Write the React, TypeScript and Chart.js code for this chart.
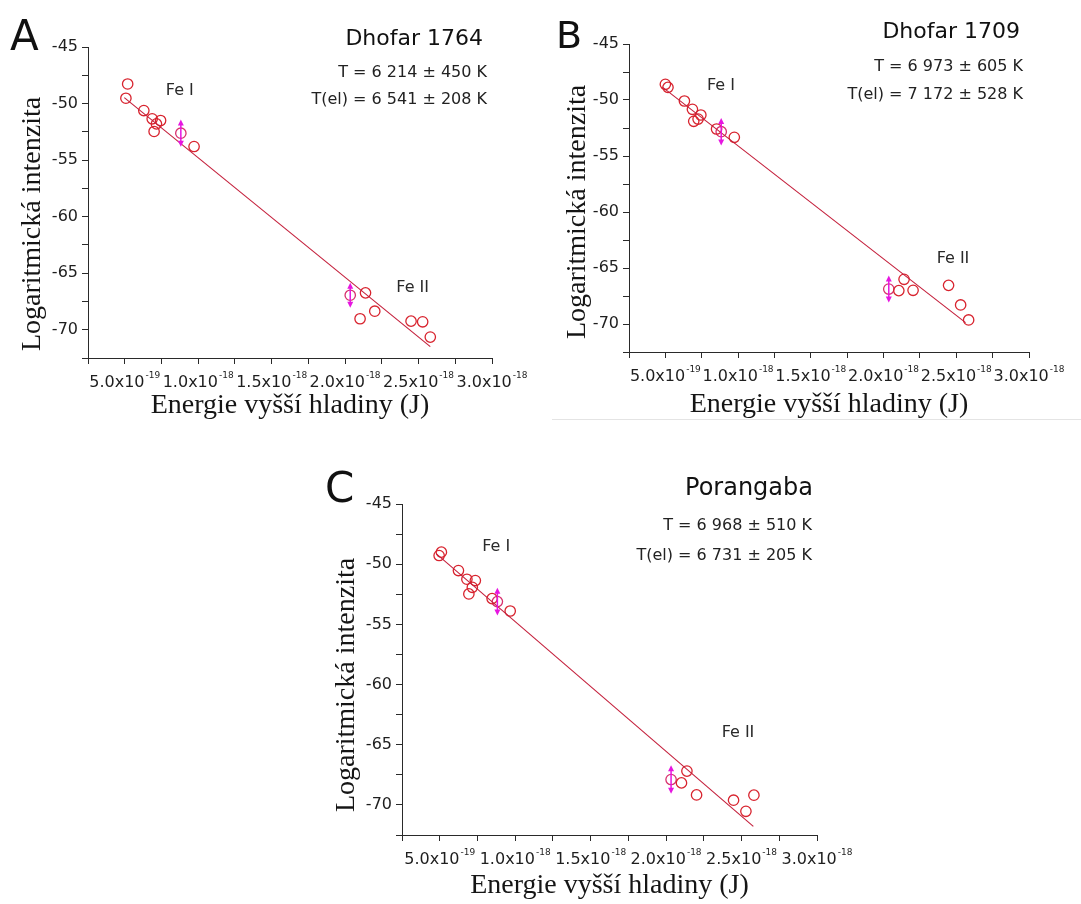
import React, { useEffect, useRef } from "react";
import { Chart, registerables } from "chart.js";

Chart.register(...registerables);

// Energies are in units of 1e-18 J, log intensities dimensionless.
const xTickValues = [0.25, 0.5, 0.75, 1.0, 1.25, 1.5, 1.75, 2.0, 2.25, 2.5, 2.75, 3.0];
const xTickMantissas = ["", "5.0", "", "1.0", "", "1.5", "", "2.0", "", "2.5", "", "3.0"];
const xTickExponents = ["", "-19", "", "-18", "", "-18", "", "-18", "", "-18", "", "-18"];
const yTickValues = [-72.5, -70, -67.5, -65, -62.5, -60, -57.5, -55, -52.5, -50, -47.5, -45];
const yTickLabels = ["", "-70", "", "-65", "", "-60", "", "-55", "", "-50", "", "-45"];

const xAxisTitle = "Energie vyšší hladiny (J)";
const yAxisTitle = "Logaritmická intenzita";

// Panel A – Dhofar 1764
const aEnergy = [0.52, 0.508, 0.63, 0.687, 0.70, 0.744, 0.716, 0.972, 2.139, 2.102, 2.202, 2.449, 2.528, 2.58];
const aLogInt = [-48.27, -49.53, -50.62, -51.35, -52.47, -51.5, -51.8, -53.8, -66.74, -69.03, -68.36, -69.24, -69.3, -70.65];
const aErrEnergy = [0.882, 2.035];
const aErrLogInt = [-52.62, -66.95];
const aErrSize = [1.2, 1.1];
const aFitEnergy = [0.497, 2.58];
const aFitLogInt = [-49.47, -71.5];

// Panel B – Dhofar 1709
const bEnergy = [0.5, 0.518, 0.631, 0.686, 0.744, 0.695, 0.725, 0.852, 0.974, 2.105, 2.141, 2.203, 2.447, 2.53, 2.585];
const bLogInt = [-48.6, -48.87, -50.09, -50.83, -51.34, -51.9, -51.7, -52.59, -53.33, -67.02, -66.01, -66.99, -66.55, -68.3, -69.64];
const bErrEnergy = [0.884, 2.036];
const bErrLogInt = [-52.83, -66.88];
const bErrSize = [1.23, 1.2];
const bFitEnergy = [0.482, 2.564];
const bFitLogInt = [-48.87, -69.88];

// Panel C – Porangaba
const cEnergy = [0.511, 0.496, 0.624, 0.68, 0.736, 0.716, 0.693, 0.847, 0.967, 2.102, 2.138, 2.202, 2.447, 2.529, 2.582];
const cLogInt = [-49.0, -49.28, -50.53, -51.25, -51.36, -51.92, -52.47, -52.86, -53.89, -68.17, -67.19, -69.17, -69.61, -70.53, -69.19];
const cErrEnergy = [0.882, 2.033];
const cErrLogInt = [-53.11, -67.89];
const cErrSize = [1.15, 1.18];
const cFitEnergy = [0.478, 2.578];
const cFitLogInt = [-49.14, -71.78];

const SANS = '"DejaVu Sans", "Liberation Sans", Arial, sans-serif';
const SERIF = '"Liberation Serif", "Times New Roman", serif';
const POINT_COLOR = "#d8232e";
const FIT_COLOR = "#c4203c";
const ERR_COLOR = "#e616e0";
const AXIS_COLOR = "#2a2a2a";

type PanelDef = {
  id: string;
  left: number; top: number; width: number; height: number;
  area: { left: number; top: number; right: number; bottom: number };
  energy: number[]; logInt: number[];
  errEnergy: number[]; errLogInt: number[]; errSize: number[];
  fitEnergy: number[]; fitLogInt: number[];
  letter: string; letterX: number; letterBase: number; letterSize: number;
  title: string; titleRight: number; titleBase: number; titleSize: number;
  tLines: string[]; tRight: number; tBases: number[];
  feLabels: { text: string; x: number; y: number }[];
  yTitleX: number; yTitleY: number; xTitleBase: number;
};

const panels: PanelDef[] = [
  {
    id: "A", left: 0, top: 0, width: 540, height: 420,
    area: { left: 88, top: 47, right: 492, bottom: 358 },
    energy: aEnergy, logInt: aLogInt, errEnergy: aErrEnergy, errLogInt: aErrLogInt, errSize: aErrSize,
    fitEnergy: aFitEnergy, fitLogInt: aFitLogInt,
    letter: "A", letterX: 10, letterBase: 50, letterSize: 42,
    title: "Dhofar 1764", titleRight: 483, titleBase: 45, titleSize: 22,
    tLines: ["T = 6 214 ± 450 K", "T(el) = 6 541 ± 208 K"], tRight: 487, tBases: [77, 104],
    feLabels: [{ text: "Fe I", x: 0.78, y: -49.24 }, { text: "Fe II", x: 2.349, y: -66.62 }],
    yTitleX: 33, yTitleY: 224, xTitleBase: 413,
  },
  {
    id: "B", left: 540, top: 0, width: 541, height: 420,
    area: { left: 89, top: 44, right: 489, bottom: 352 },
    energy: bEnergy, logInt: bLogInt, errEnergy: bErrEnergy, errLogInt: bErrLogInt, errSize: bErrSize,
    fitEnergy: bFitEnergy, fitLogInt: bFitLogInt,
    letter: "B", letterX: 16, letterBase: 48, letterSize: 38,
    title: "Dhofar 1709", titleRight: 480, titleBase: 38, titleSize: 22,
    tLines: ["T = 6 973 ± 605 K", "T(el) = 7 172 ± 528 K"], tRight: 483, tBases: [71, 99],
    feLabels: [{ text: "Fe I", x: 0.786, y: -49.11 }, { text: "Fe II", x: 2.365, y: -64.55 }],
    yTitleX: 38, yTitleY: 212, xTitleBase: 412,
  },
  {
    id: "C", left: 320, top: 460, width: 560, height: 444,
    area: { left: 82, top: 44, right: 497, bottom: 375 },
    energy: cEnergy, logInt: cLogInt, errEnergy: cErrEnergy, errLogInt: cErrLogInt, errSize: cErrSize,
    fitEnergy: cFitEnergy, fitLogInt: cFitLogInt,
    letter: "C", letterX: 5, letterBase: 42, letterSize: 42,
    title: "Porangaba", titleRight: 493, titleBase: 35, titleSize: 24,
    tLines: ["T = 6 968 ± 510 K", "T(el) = 6 731 ± 205 K"], tRight: 492, tBases: [70, 100],
    feLabels: [{ text: "Fe I", x: 0.781, y: -48.89 }, { text: "Fe II", x: 2.368, y: -64.39 }],
    yTitleX: 27, yTitleY: 225, xTitleBase: 433,
  },
];

function makeDecorPlugin(p: PanelDef) {
  return {
    id: "decor" + p.id,
    afterDraw(chart: any) {
      const ctx = chart.ctx as CanvasRenderingContext2D;
      const xs = chart.scales.x;
      const ys = chart.scales.y;
      const ca = chart.chartArea;
      ctx.save();

      // error bars with arrow heads
      ctx.strokeStyle = ERR_COLOR;
      ctx.fillStyle = ERR_COLOR;
      ctx.lineWidth = 1.5;
      p.errEnergy.forEach((e, i) => {
        const px = xs.getPixelForValue(e);
        const yTop = ys.getPixelForValue(p.errLogInt[i] + p.errSize[i]);
        const yBot = ys.getPixelForValue(p.errLogInt[i] - p.errSize[i]);
        ctx.beginPath();
        ctx.moveTo(px, yTop + 3);
        ctx.lineTo(px, yBot - 3);
        ctx.stroke();
        ctx.beginPath();
        ctx.moveTo(px, yTop);
        ctx.lineTo(px - 3, yTop + 6);
        ctx.lineTo(px + 3, yTop + 6);
        ctx.closePath();
        ctx.fill();
        ctx.beginPath();
        ctx.moveTo(px, yBot);
        ctx.lineTo(px - 3, yBot - 6);
        ctx.lineTo(px + 3, yBot - 6);
        ctx.closePath();
        ctx.fill();
      });

      // x tick labels with superscript exponents
      ctx.fillStyle = "#1e1e1e";
      ctx.textBaseline = "alphabetic";
      ctx.textAlign = "left";
      const base = ca.bottom + 29;
      xTickValues.forEach((v, i) => {
        const mant = xTickMantissas[i];
        if (!mant) return;
        const px = xs.getPixelForValue(v);
        const main = mant + "x10";
        ctx.font = "16px " + SANS;
        const wMain = ctx.measureText(main).width;
        ctx.font = "9px " + SANS;
        const wExp = ctx.measureText(xTickExponents[i]).width;
        const x0 = px - (wMain + wExp + 1) / 2;
        ctx.font = "16px " + SANS;
        ctx.fillText(main, x0, base);
        ctx.font = "9px " + SANS;
        ctx.fillText(xTickExponents[i], x0 + wMain + 1, base - 9);
      });

      // Fe labels
      ctx.fillStyle = "#2a2a2a";
      ctx.font = "16px " + SANS;
      p.feLabels.forEach((l) => {
        ctx.fillText(l.text, xs.getPixelForValue(l.x), ys.getPixelForValue(l.y));
      });

      // panel letter
      ctx.fillStyle = "#111";
      ctx.font = p.letterSize + "px " + SANS;
      ctx.fillText(p.letter, p.letterX, p.letterBase);

      // titles
      ctx.textAlign = "right";
      ctx.font = p.titleSize + "px " + SANS;
      ctx.fillText(p.title, p.titleRight, p.titleBase);
      ctx.fillStyle = "#222";
      ctx.font = "16px " + SANS;
      p.tLines.forEach((t, i) => ctx.fillText(t, p.tRight, p.tBases[i]));

      // axis titles
      ctx.fillStyle = "#151515";
      ctx.font = "28px " + SERIF;
      ctx.textAlign = "center";
      ctx.fillText(xAxisTitle, (ca.left + ca.right) / 2, p.xTitleBase);
      ctx.save();
      ctx.translate(p.yTitleX, p.yTitleY);
      ctx.rotate(-Math.PI / 2);
      ctx.textBaseline = "middle";
      ctx.fillText(yAxisTitle, 0, 0);
      ctx.restore();

      ctx.restore();
    },
  };
}

function PanelChart({ p }: { p: PanelDef }) {
  const ref = useRef<HTMLCanvasElement | null>(null);
  useEffect(() => {
    if (!ref.current) return;
    const pts = p.energy.map((e, i) => ({ x: e, y: p.logInt[i] }));
    const errPts = p.errEnergy.map((e, i) => ({ x: e, y: p.errLogInt[i] }));
    const fit = p.fitEnergy.map((e, i) => ({ x: e, y: p.fitLogInt[i] }));
    const gridOpts = {
      display: true,
      drawOnChartArea: false,
      drawTicks: true,
      tickLength: 6,
      color: AXIS_COLOR,
      lineWidth: 1,
    };
    const chart = new Chart(ref.current, {
      type: "scatter",
      data: {
        datasets: [
          {
            label: "fit",
            data: fit,
            showLine: true,
            borderColor: FIT_COLOR,
            borderWidth: 1.1,
            pointRadius: 0,
            fill: false,
          } as any,
          {
            label: "Fe",
            data: pts,
            showLine: false,
            pointStyle: "circle",
            pointRadius: 5.2,
            borderColor: POINT_COLOR,
            backgroundColor: "rgba(0,0,0,0)",
            borderWidth: 1.3,
          },
          {
            label: "err",
            data: errPts,
            showLine: false,
            pointStyle: "circle",
            pointRadius: 5.2,
            borderColor: "#d8306e",
            backgroundColor: "rgba(0,0,0,0)",
            borderWidth: 1.3,
          },
        ],
      },
      options: {
        animation: false,
        responsive: false,
        devicePixelRatio: 1,
        layout: {
          padding: {
            left: 0,
            top: p.area.top,
            right: p.width - p.area.right,
            bottom: 0,
          },
        },
        plugins: { legend: { display: false }, tooltip: { enabled: false } },
        scales: {
          x: {
            type: "linear",
            min: 0.25,
            max: 3.0,
            afterBuildTicks: (s: any) => {
              s.ticks = xTickValues.map((v) => ({ value: v }));
            },
            afterFit: (s: any) => {
              s.height = p.height - p.area.bottom;
            },
            ticks: { callback: () => "", autoSkip: false, maxRotation: 0 },
            grid: gridOpts,
            border: { display: true, color: AXIS_COLOR, width: 1 },
            title: { display: false },
          },
          y: {
            type: "linear",
            min: -72.5,
            max: -45,
            afterBuildTicks: (s: any) => {
              s.ticks = yTickValues.map((v) => ({ value: v }));
            },
            afterFit: (s: any) => {
              s.width = p.area.left;
            },
            ticks: {
              callback: (_v: any, i: number) => yTickLabels[i],
              autoSkip: false,
              padding: 4,
              color: "#1e1e1e",
              font: { family: SANS, size: 16 },
            },
            grid: gridOpts,
            border: { display: true, color: AXIS_COLOR, width: 1 },
            title: { display: false },
          },
        },
      } as any,
      plugins: [makeDecorPlugin(p)],
    });
    return () => chart.destroy();
  }, [p]);
  return (
    <canvas
      ref={ref}
      width={p.width}
      height={p.height}
      style={{
        position: "absolute",
        left: p.left,
        top: p.top,
        width: p.width,
        height: p.height,
      }}
    />
  );
}

export default function App() {
  return (
    <div
      style={{
        position: "absolute",
        left: 0,
        top: 0,
        width: 1081,
        height: 904,
        background: "#fff",
        overflow: "hidden",
      }}
    >
      {panels.map((p) => (
        <PanelChart key={p.id} p={p} />
      ))}
      <div
        style={{
          position: "absolute",
          left: 552,
          top: 419,
          width: 529,
          height: 1,
          background: "#e4e4e4",
        }}
      />
    </div>
  );
}
